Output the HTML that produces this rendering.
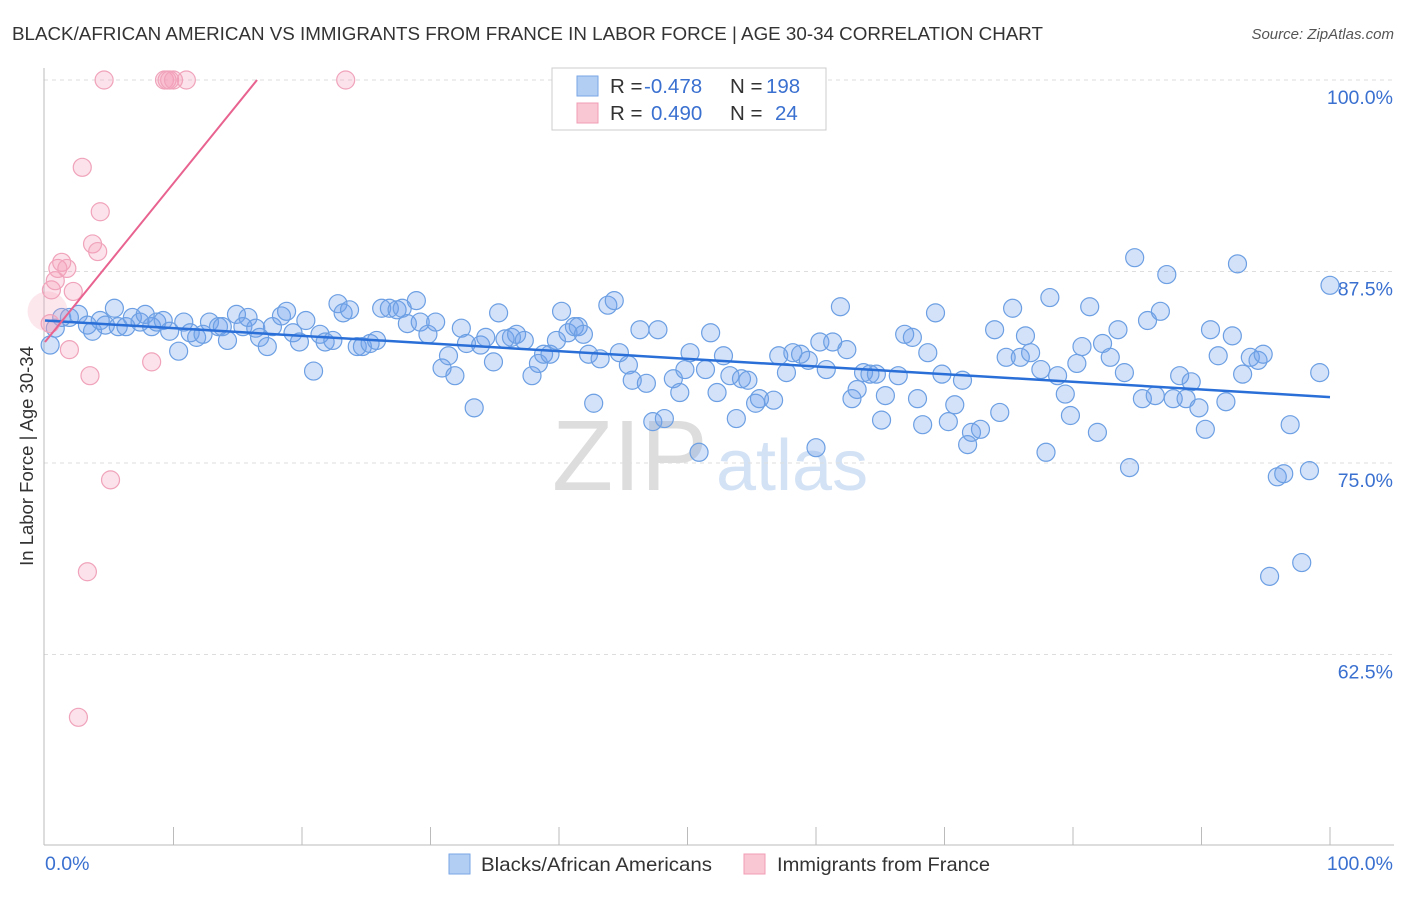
<!DOCTYPE html>
<html><head><meta charset="utf-8"><style>
body{margin:0;background:#fff;font-family:"Liberation Sans",sans-serif}
svg text{font-family:"Liberation Sans",sans-serif}
</style></head><body>
<svg id="c" width="1406" height="892">
<text x="12" y="40" font-size="18.5" fill="#333" textLength="1031" lengthAdjust="spacingAndGlyphs">BLACK/AFRICAN AMERICAN VS IMMIGRANTS FROM FRANCE IN LABOR FORCE | AGE 30-34 CORRELATION CHART</text>
<text x="1394" y="39" font-size="15" fill="#555" font-style="italic" text-anchor="end">Source: ZipAtlas.com</text>
<text transform="translate(33,456) rotate(-90)" font-size="18.5" fill="#333" text-anchor="middle">In Labor Force | Age 30-34</text>
<g>
<text x="552" y="490" font-size="100" fill="#ddd" font-family="Liberation Serif">ZIP</text>
<text x="716" y="490" font-size="72" fill="#d4e2f5">atlas</text>
</g>
<g id="grid"></g><g id="axes"></g><g id="marks"></g>
<g>
<rect x="552" y="68" width="274" height="62" fill="#fff" stroke="#ccc"/>
<rect x="577" y="76" width="21" height="20" fill="#b3cef3" stroke="#7aa6e6"/>
<rect x="577" y="103" width="21" height="20" fill="#f9c6d3" stroke="#ef9db4"/>
<text x="610" y="93" font-size="20.5" fill="#333">R = <tspan fill="#3a70d0" x="644">-0.478</tspan><tspan x="730">N = </tspan><tspan fill="#3a70d0" x="766">198</tspan></text>
<text x="610" y="120" font-size="20.5" fill="#333">R = <tspan fill="#3a70d0" x="651">0.490</tspan><tspan x="730">N = </tspan><tspan fill="#3a70d0" x="775">24</tspan></text>
</g>
<g>
<rect x="449" y="854" width="21" height="20" fill="#b3cef3" stroke="#7aa6e6"/>
<text x="481" y="871" font-size="19.5" fill="#333" textLength="231" lengthAdjust="spacingAndGlyphs">Blacks/African Americans</text>
<rect x="744" y="854" width="21" height="20" fill="#f9c6d3" stroke="#ef9db4"/>
<text x="777" y="871" font-size="19.5" fill="#333" textLength="213" lengthAdjust="spacingAndGlyphs">Immigrants from France</text>
</g>
</svg>
<script>
const yTicks=[100,87.5,75,62.5];
const yTickLabels=["100.0%","87.5%","75.0%","62.5%"];
const xTickLabels=["0.0%","100.0%"];
const blueX=[0.4,0.8,1.3,1.9,2.6,3.3,3.7,4.3,4.7,5.4,5.7,6.3,6.8,7.4,7.8,8.3,8.7,9.2,9.7,10.4,10.8,11.3,11.8,12.3,12.8,13.5,13.8,14.2,14.9,15.4,15.8,16.4,16.7,17.3,17.7,18.4,18.8,19.3,19.8,20.3,20.9,21.4,21.8,22.4,22.8,23.2,23.7,24.3,24.7,25.3,25.8,26.2,26.8,27.4,27.8,28.2,28.9,29.2,29.8,30.4,30.9,31.4,31.9,32.4,32.8,33.4,33.9,34.3,34.9,35.3,35.8,36.3,36.7,37.3,37.9,38.4,38.8,39.3,39.8,40.2,40.7,41.2,41.5,41.9,42.3,42.7,43.2,43.8,44.3,44.7,45.4,45.7,46.3,46.8,47.3,47.7,48.2,48.9,49.4,49.8,50.2,50.9,51.4,51.8,52.3,52.8,53.3,53.8,54.2,54.7,55.3,55.6,56.7,57.1,57.7,58.2,58.8,59.4,60.0,60.3,60.8,61.3,61.9,62.4,62.8,63.2,63.7,64.2,64.7,65.1,65.4,66.4,66.9,67.5,67.9,68.3,68.7,69.3,69.8,70.3,70.8,71.4,71.8,72.1,72.8,73.9,74.3,74.8,75.3,75.9,76.3,76.7,77.5,77.9,78.2,78.8,79.4,79.8,80.3,80.7,81.3,81.9,82.3,82.9,83.5,84.0,84.4,84.8,85.4,85.8,86.4,86.8,87.3,87.8,88.3,88.8,89.2,89.8,90.3,90.7,91.3,91.9,92.4,92.8,93.2,93.8,94.4,94.8,95.3,95.9,96.4,96.9,97.8,98.4,99.2,100];
const blueY=[82.7,83.8,84.5,84.5,84.7,84.0,83.6,84.3,84.0,85.1,83.9,83.9,84.5,84.2,84.7,83.9,84.2,84.3,83.6,82.3,84.2,83.5,83.2,83.4,84.2,83.9,83.9,83.0,84.7,83.9,84.5,83.8,83.2,82.6,83.9,84.6,84.9,83.5,82.9,84.3,81.0,83.4,82.9,83.0,85.4,84.8,85.0,82.6,82.6,82.8,83.0,85.1,85.1,85.0,85.1,84.1,85.6,84.2,83.4,84.2,81.2,82.0,80.7,83.8,82.8,78.6,82.7,83.2,81.6,84.8,83.1,83.2,83.4,83.0,80.7,81.5,82.1,82.1,83.0,84.9,83.5,83.9,83.9,83.4,82.1,78.9,81.8,85.3,85.6,82.2,81.4,80.4,83.7,80.2,77.7,83.7,77.9,80.5,79.6,81.1,82.2,75.7,81.1,83.5,79.6,82.0,80.7,77.9,80.5,80.4,78.9,79.2,79.1,82.0,80.9,82.2,82.1,81.7,76.0,82.9,81.1,82.9,85.2,82.4,79.2,79.8,80.9,80.8,80.8,77.8,79.4,80.7,83.4,83.2,79.2,77.5,82.2,84.8,80.8,77.7,78.8,80.4,76.2,77.0,77.2,83.7,78.3,81.9,85.1,81.9,83.3,82.2,81.1,75.7,85.8,80.7,79.5,78.1,81.5,82.6,85.2,77.0,82.8,81.9,83.7,80.9,74.7,88.4,79.2,84.3,79.4,84.9,87.3,79.2,80.7,79.2,80.3,78.6,77.2,83.7,82.0,79.0,83.3,88.0,80.8,81.9,81.7,82.1,67.6,74.1,74.3,77.5,68.5,74.5,80.9,86.6];
const pinkX=[0.4,0.5,0.8,1.0,1.3,1.7,1.9,2.2,2.6,2.9,3.3,3.5,3.7,4.1,4.3,4.6,5.1,8.3,9.3,9.5,9.7,10.0,11.0,23.4];
const pinkY=[84.1,86.3,86.9,87.7,88.1,87.7,82.4,86.2,58.4,94.3,67.9,80.7,89.3,88.8,91.4,100,73.9,81.6,100,100,100,100,100,100];
const blueTrend=[84.3,79.3];
const pinkTrend=[[0,82.9],[16.5,100]];
const NS="http://www.w3.org/2000/svg";
const X=v=>45+v*12.85, Y=v=>80+(100-v)*15.32;
function mk(p,t,a){const e=document.createElementNS(NS,t);for(const k in a)e.setAttribute(k,a[k]);p.appendChild(e);return e;}
const grid=document.getElementById('grid'),axes=document.getElementById('axes'),marks=document.getElementById('marks');
yTicks.forEach((t,i)=>{
 const l=mk(grid,'line',{x1:44,x2:1394,y1:Y(t),y2:Y(t),stroke:'#ddd','stroke-dasharray':'4,4'});
 
 
 const tx=mk(axes,'text',{x:1393,y:Y(t)+24,'font-size':19.5,fill:'#3a70d0','text-anchor':'end'});tx.textContent=yTickLabels[i];
 
 
});
let a=mk(axes,'line',{x1:44,x2:44,y1:68,y2:845,stroke:'#bbb'});


a=mk(axes,'line',{x1:44,x2:1394,y1:845,y2:845,stroke:'#bbb'});


for(let i=1;i<=10;i++){const t=mk(axes,'line',{x1:X(i*10),x2:X(i*10),y1:827,y2:845,stroke:'#bbb'});
 
 }
let xl=mk(axes,'text',{x:45,y:870,'font-size':19.5,fill:'#3a70d0'});xl.textContent=xTickLabels[0];


xl=mk(axes,'text',{x:1393,y:870,'font-size':19.5,fill:'#3a70d0','text-anchor':'end'});xl.textContent=xTickLabels[1];


blueX.forEach((x,i)=>{const c=mk(marks,'circle',{cx:X(x),cy:Y(blueY[i]),r:9,fill:'rgba(110,160,235,0.3)',stroke:'#6c9fe3','stroke-width':1.2});
 
 });
let big=mk(marks,'circle',{cx:X(0.2),cy:Y(84.9),r:20,fill:'rgba(245,160,185,0.25)',stroke:'none'});


pinkX.forEach((x,i)=>{const c=mk(marks,'circle',{cx:X(x),cy:Y(pinkY[i]),r:9,fill:'rgba(245,160,185,0.3)',stroke:'#f0a3bb','stroke-width':1.2});
 
 });
let tl=mk(marks,'line',{x1:X(0),y1:Y(blueTrend[0]),x2:X(100),y2:Y(blueTrend[1]),stroke:'#2a6fd8','stroke-width':2.5});


tl=mk(marks,'line',{x1:X(pinkTrend[0][0]),y1:Y(pinkTrend[0][1]),x2:X(pinkTrend[1][0]),y2:Y(pinkTrend[1][1]),stroke:'#e8638f','stroke-width':2});


</script>
</body></html>
